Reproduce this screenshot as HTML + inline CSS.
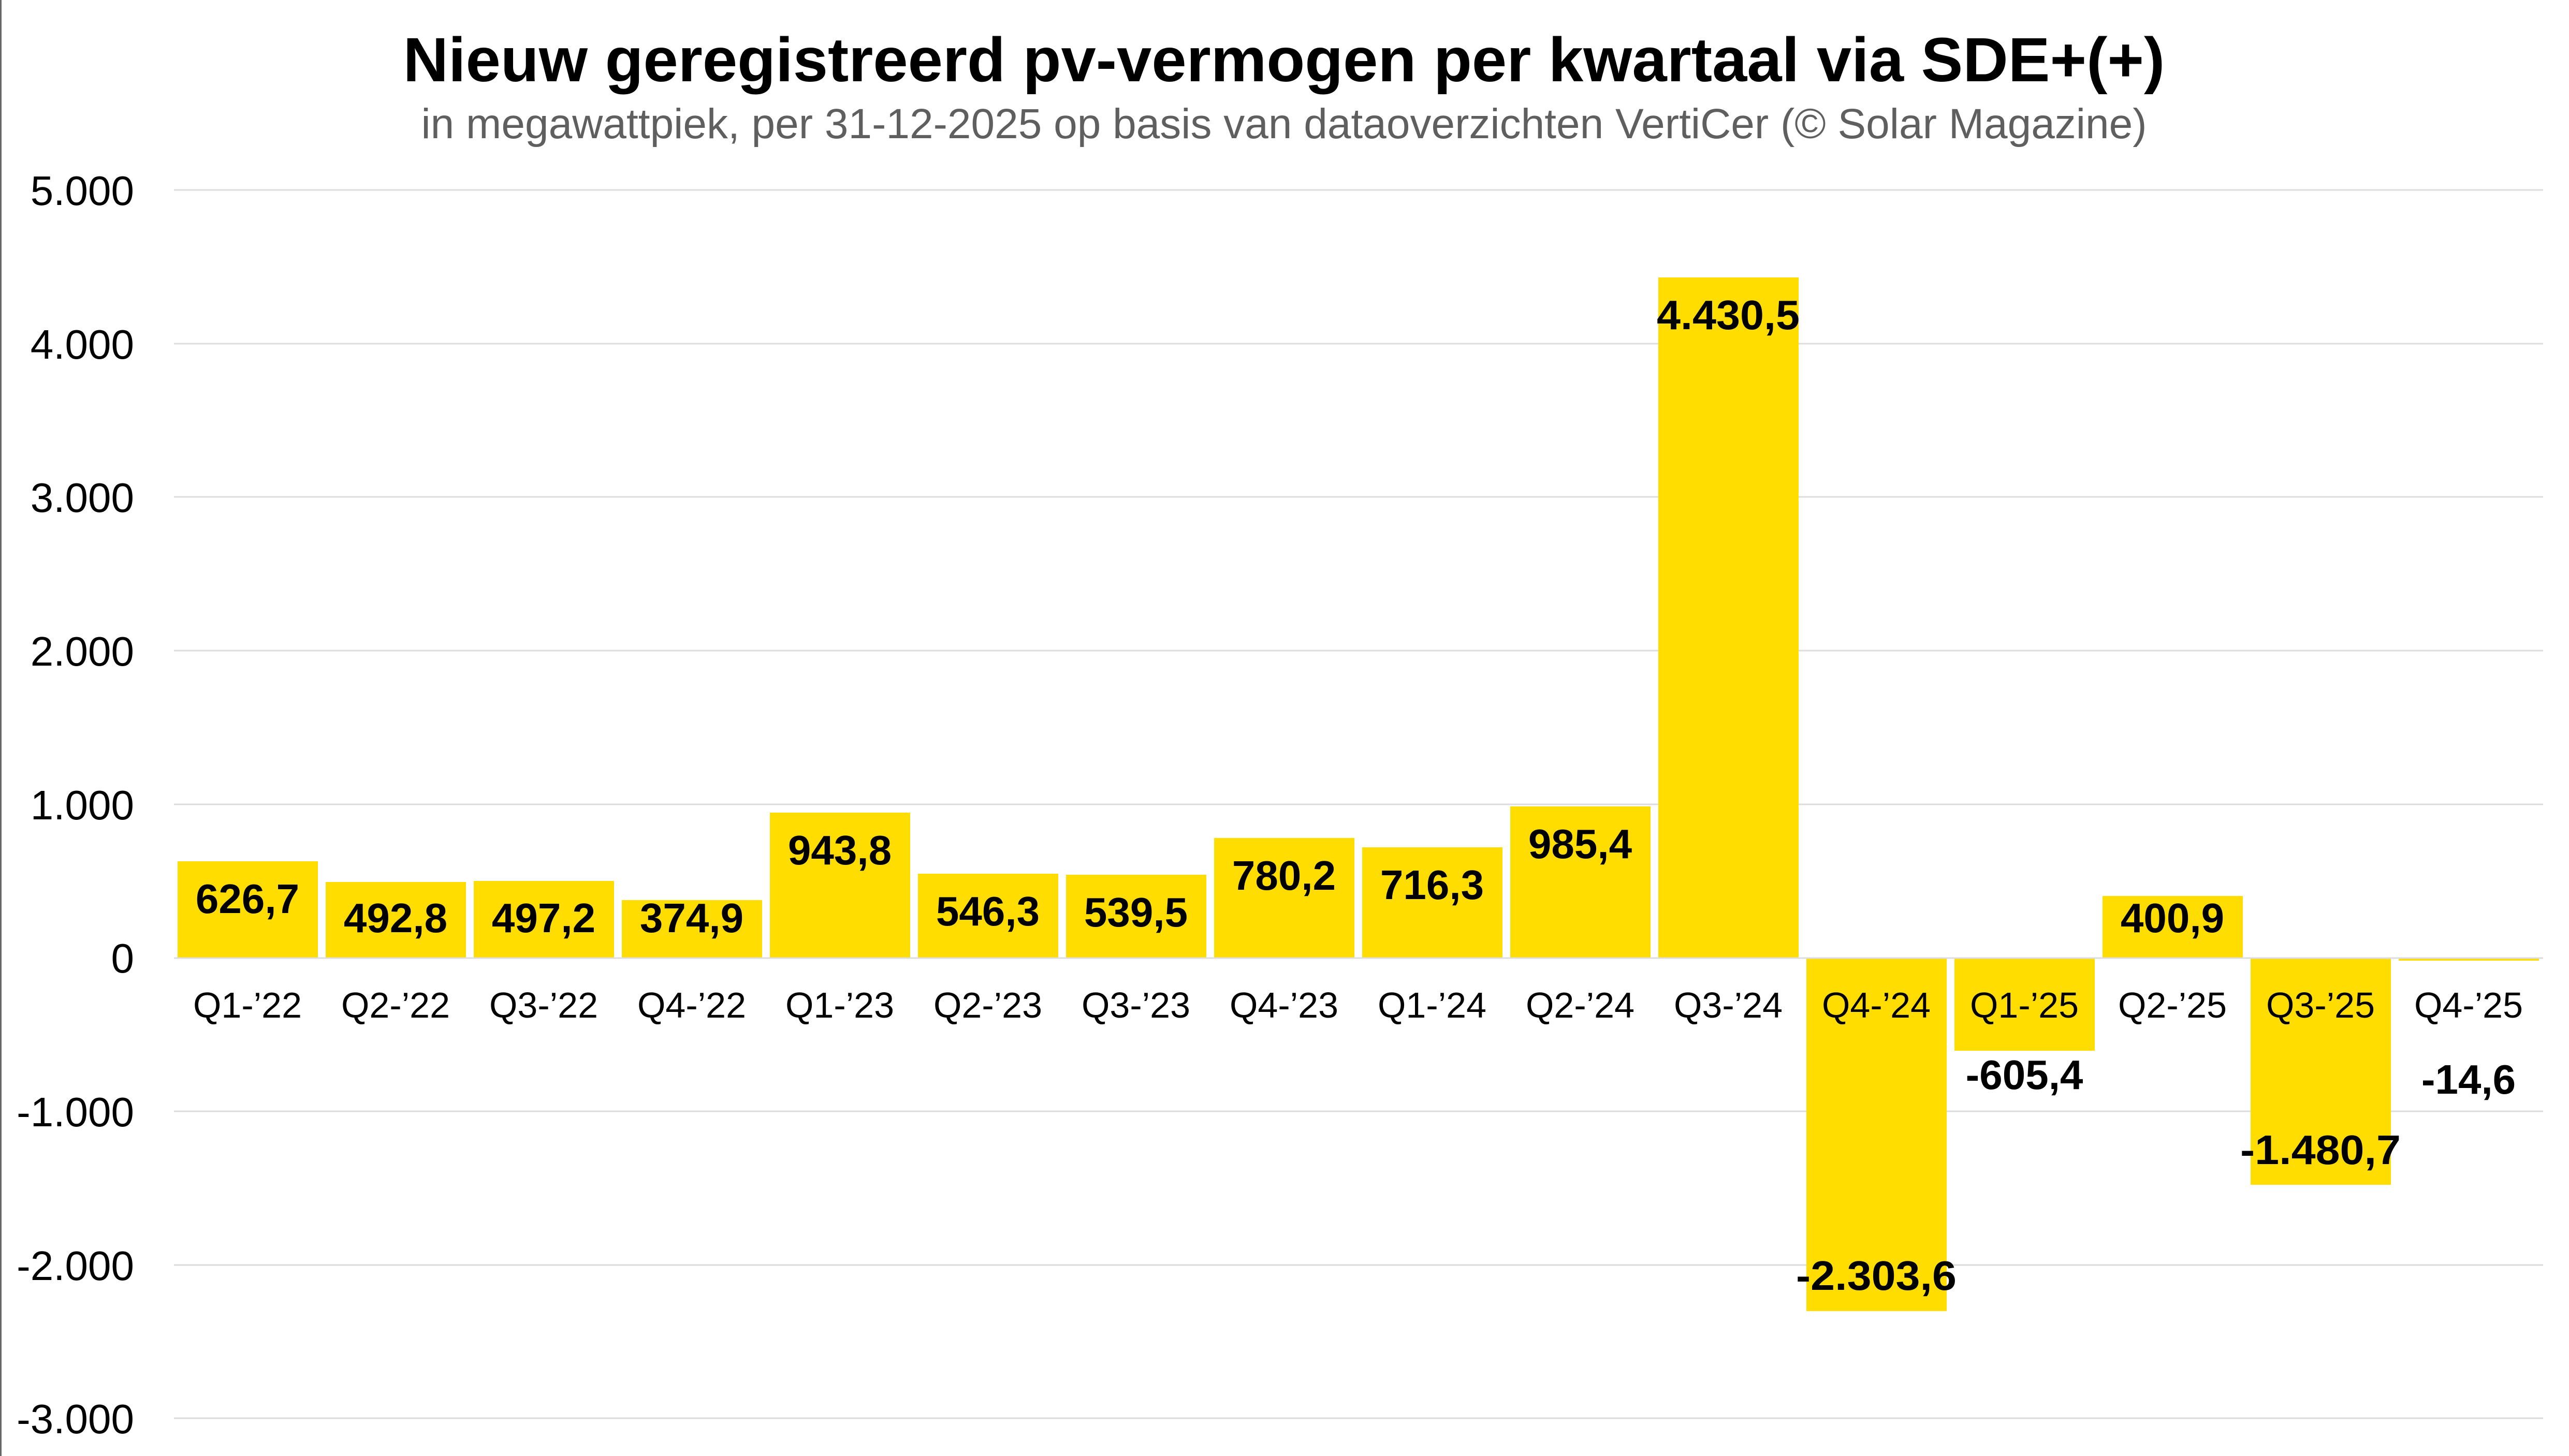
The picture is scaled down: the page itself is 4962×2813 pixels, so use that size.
<!DOCTYPE html>
<html><head><meta charset="utf-8"><style>
html,body{margin:0;padding:0;background:#fff;}
svg{display:block;}
text{font-family:"Liberation Sans",Arial,sans-serif;}
</style></head><body>
<svg width="4962" height="2813" viewBox="0 0 4962 2813" xmlns="http://www.w3.org/2000/svg">
<rect x="0" y="0" width="4962" height="2813" fill="#fff"/>
<rect x="0" y="0" width="3" height="2813" fill="#666"/>
<text x="2480" y="157" font-size="121" font-weight="bold" text-anchor="middle">Nieuw geregistreerd pv-vermogen per kwartaal via SDE+(+)</text>
<text x="2480" y="267" font-size="82" fill="#5f5f5f" text-anchor="middle">in megawattpiek, per 31-12-2025 op basis van dataoverzichten VertiCer (© Solar Magazine)</text>
<g stroke="#dcdcdc" stroke-width="3">
<line x1="336" x2="4912" y1="367" y2="367"/>
<line x1="336" x2="4912" y1="664" y2="664"/>
<line x1="336" x2="4912" y1="960" y2="960"/>
<line x1="336" x2="4912" y1="1257" y2="1257"/>
<line x1="336" x2="4912" y1="1554" y2="1554"/>
<line x1="336" x2="4912" y1="2147" y2="2147"/>
<line x1="336" x2="4912" y1="2444" y2="2444"/>
<line x1="336" x2="4912" y1="2740" y2="2740"/>
</g>
<g font-size="80" text-anchor="end">
<text x="259" y="396">5.000</text>
<text x="259" y="693">4.000</text>
<text x="259" y="989">3.000</text>
<text x="259" y="1286">2.000</text>
<text x="259" y="1583">1.000</text>
<text x="259" y="1879">0</text>
<text x="259" y="2176">-1.000</text>
<text x="259" y="2473">-2.000</text>
<text x="259" y="2769">-3.000</text>
</g>
<g fill="#FFDD00">
<rect x="343" y="1664" width="271" height="186"/>
<rect x="629" y="1704" width="271" height="146"/>
<rect x="915" y="1702" width="271" height="148"/>
<rect x="1201" y="1739" width="271" height="111"/>
<rect x="1487" y="1570" width="271" height="280"/>
<rect x="1773" y="1688" width="271" height="162"/>
<rect x="2059" y="1690" width="271" height="160"/>
<rect x="2345" y="1619" width="271" height="231"/>
<rect x="2631" y="1637" width="271" height="213"/>
<rect x="2917" y="1558" width="271" height="292"/>
<rect x="3203" y="536" width="271" height="1314"/>
<rect x="3489" y="1852" width="271" height="681"/>
<rect x="3775" y="1852" width="271" height="178"/>
<rect x="4061" y="1731" width="271" height="119"/>
<rect x="4347" y="1852" width="271" height="437"/>
<rect x="4633" y="1852" width="271" height="4"/>
</g>
<line x1="336" x2="4912" y1="1851" y2="1851" stroke="#dcdcdc" stroke-width="3"/>
<g font-size="70" text-anchor="middle">
<text x="478" y="1966">Q1-’22</text>
<text x="764" y="1966">Q2-’22</text>
<text x="1050" y="1966">Q3-’22</text>
<text x="1336" y="1966">Q4-’22</text>
<text x="1622" y="1966">Q1-’23</text>
<text x="1908" y="1966">Q2-’23</text>
<text x="2194" y="1966">Q3-’23</text>
<text x="2480" y="1966">Q4-’23</text>
<text x="2766" y="1966">Q1-’24</text>
<text x="3052" y="1966">Q2-’24</text>
<text x="3338" y="1966">Q3-’24</text>
<text x="3624" y="1966">Q4-’24</text>
<text x="3910" y="1966">Q1-’25</text>
<text x="4196" y="1966">Q2-’25</text>
<text x="4482" y="1966">Q3-’25</text>
<text x="4768" y="1966">Q4-’25</text>
</g>
<g font-size="80" font-weight="bold" text-anchor="middle">
<text x="478" y="1764">626,7</text>
<text x="764" y="1801">492,8</text>
<text x="1050" y="1801">497,2</text>
<text x="1336" y="1801">374,9</text>
<text x="1622" y="1670">943,8</text>
<text x="1908" y="1788">546,3</text>
<text x="2194" y="1790">539,5</text>
<text x="2480" y="1719">780,2</text>
<text x="2766" y="1737">716,3</text>
<text x="3052" y="1658">985,4</text>
<text x="3338" y="636" textLength="276" lengthAdjust="spacingAndGlyphs">4.430,5</text>
<text x="3624" y="2492" textLength="310" lengthAdjust="spacingAndGlyphs">-2.303,6</text>
<text x="3910" y="2104">-605,4</text>
<text x="4196" y="1801">400,9</text>
<text x="4482" y="2249" textLength="310" lengthAdjust="spacingAndGlyphs">-1.480,7</text>
<text x="4768" y="2113">-14,6</text>
</g>
</svg>
</body></html>
